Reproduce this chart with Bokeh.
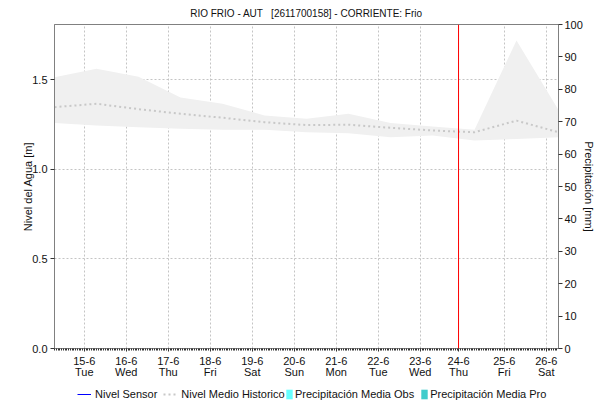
import numpy as np
import pandas as pd
from bokeh.plotting import figure
from bokeh.layouts import column
from bokeh.models import (Range1d, LinearAxis, FixedTicker, Span, Legend, LegendItem,
                          ColumnDataSource, NumeralTickFormatter)
from bokeh.embed import file_html
from bokeh.resources import INLINE

# ---------------- data ----------------
fechas = ["2021-06-14 07:00", "2021-06-15 07:00", "2021-06-16 07:00", "2021-06-17 07:00",
          "2021-06-18 07:00", "2021-06-19 07:00", "2021-06-20 07:00", "2021-06-21 07:00",
          "2021-06-22 07:00", "2021-06-23 07:00", "2021-06-24 07:00", "2021-06-25 07:00",
          "2021-06-26 07:00"]
nivel_max_hist = [1.513, 1.560, 1.515, 1.400, 1.365, 1.300, 1.281, 1.309, 1.257, 1.238, 1.220, 1.718, 1.330]
nivel_medio_hist = [1.346, 1.365, 1.335, 1.309, 1.287, 1.262, 1.246, 1.248, 1.231, 1.216, 1.206, 1.271, 1.206]
nivel_min_hist = [1.257, 1.244, 1.234, 1.225, 1.220, 1.220, 1.206, 1.201, 1.178, 1.188, 1.160, 1.169, 1.178]
precip_obs = [0] * 13
precip_pro = [0] * 13
nivel_sensor = [None] * 13   # no sensor readings in the period

ahora = "2021-06-23 21:53"
tick_fechas = ["2021-06-15", "2021-06-16", "2021-06-17", "2021-06-18", "2021-06-19", "2021-06-20",
               "2021-06-21", "2021-06-22", "2021-06-23", "2021-06-23 21:53", "2021-06-25", "2021-06-26"]
tick_labels = ["15-6\nTue", "16-6\nWed", "17-6\nThu", "18-6\nFri", "19-6\nSat", "20-6\nSun",
               "21-6\nMon", "22-6\nTue", "23-6\nWed", "24-6\nThu", "25-6\nFri", "26-6\nSat"]
nivel_ticks = [0.0, 0.5, 1.0, 1.5]
precip_ticks = [0, 10, 20, 30, 40, 50, 60, 70, 80, 90, 100]

titulo = "RIO FRIO - AUT \u00a0 [2611700158] - CORRIENTE: Frio"
leyenda_lineas = ["Nivel Sensor", "Nivel Medio Historico"]
leyenda_barras = ["Precipitación Media Obs", "Precipitación Media Pro"]


def to_day(s):
    t = pd.Timestamp(s)
    return round(t.day + t.hour / 24 + t.minute / 1440, 4)


x = [to_day(f) for f in fechas]
tx = [to_day(f) for f in tick_fechas]
x_now = to_day(ahora)

FONT = "Liberation Sans"
FS = "11px"
C_SENSOR = "#0000ff"
C_MEDIO = "#c8c8c8"
C_OBS = "#66ffff"
C_PRO = "#40cccc"

p = figure(width=600, height=383, output_backend="svg", toolbar_location=None,
           x_range=Range1d(x[0], x[-1]), y_range=Range1d(0, 1.807),
           min_border_left=54, min_border_right=42, min_border_top=24, min_border_bottom=35)
p.extra_y_ranges = {"precip": Range1d(0, 100)}
p.background_fill_color = "white"
p.border_fill_color = "white"
p.outline_line_color = "#808080"

p.title.text = titulo
p.title.align = "center"
p.title.vertical_align = "middle"
p.title.text_font = FONT
p.title.text_font_size = "10px"
p.title.text_font_style = "normal"
p.title.text_color = "#111111"

# band + mean
src = ColumnDataSource(dict(x=x, lo=nivel_min_hist, hi=nivel_max_hist, med=nivel_medio_hist,
                            sen=nivel_sensor, po=precip_obs, pp=precip_pro))
p.varea(x="x", y1="lo", y2="hi", source=src, fill_color="#f0f0f0")
p.line(x="x", y="med", source=src, line_color=C_MEDIO, line_width=2, line_dash="2 3")
p.line(x="x", y="sen", source=src, line_color=C_SENSOR, line_width=1)
p.vbar(x="x", top="po", width=0.4, source=src, y_range_name="precip",
       fill_color=C_OBS, line_color=None)
p.vbar(x="x", top="pp", width=0.4, source=src, y_range_name="precip",
       fill_color=C_PRO, line_color=None)

# axes
xa = p.xaxis[0]
xa.ticker = FixedTicker(ticks=tx, minor_ticks=list(np.arange(x[0], x[-1], 1 / 24)))
xa.major_label_overrides = {t: l for t, l in zip(tx, tick_labels)}
xa.major_label_text_line_height = 0.95

ya = p.yaxis[0]
ya.ticker = FixedTicker(ticks=nivel_ticks)
ya.formatter = NumeralTickFormatter(format="0.0")
ya.axis_label = "Nivel del Agua [m]"

ra = LinearAxis(y_range_name="precip", ticker=FixedTicker(ticks=precip_ticks),
                axis_label="Precipitación [mm]")
p.add_layout(ra, "right")

for ax in (xa, ya, ra):
    ax.axis_line_color = "#808080"
    ax.major_tick_line_color = "#333333"
    ax.minor_tick_line_color = "#333333" if ax is xa else None
    ax.major_tick_out = 3 if ax is xa else 4
    ax.major_tick_in = 0
    ax.minor_tick_out = 2
    ax.minor_tick_in = 0
    ax.major_label_text_font = FONT
    ax.major_label_text_font_size = FS
    ax.major_label_text_color = "#111111"
    ax.axis_label_text_font = FONT
    ax.axis_label_text_font_size = FS
    ax.axis_label_text_font_style = "normal"
    ax.axis_label_text_color = "#111111"
xa.major_label_standoff = 3
ya.major_label_standoff = 3
ya.axis_label_standoff = -5
ra.major_label_standoff = 2
ra.axis_label_standoff = -3

for g in (p.xgrid[0], p.ygrid[0]):
    g.grid_line_color = "#c4c4c4"
    g.grid_line_dash = "2 2"
    g.grid_line_width = 1

p.add_layout(Span(location=x_now, dimension="height", line_color="#ff0000", line_width=1))

# legend strip (its frame is aligned with the main frame; data lie outside its view)
lg = figure(width=600, height=20, output_backend="svg", toolbar_location=None,
            x_range=Range1d(0, 1), y_range=Range1d(-1, 0), x_axis_type=None, y_axis_type=None,
            min_border=0, outline_line_color=None)
lg.grid.visible = False
l_sen = lg.line(x="x", y="sen", source=src, line_color=C_SENSOR, line_width=1)
l_med = lg.line(x="x", y="med", source=src, line_color=C_MEDIO, line_width=2, line_dash="2 3")
l_obs = lg.vbar(x="x", top="po", width=0.1, source=src, fill_color=C_OBS, line_color=None)
l_pro = lg.vbar(x="x", top="pp", width=0.1, source=src, fill_color=C_PRO, line_color=None)

common = dict(orientation="horizontal", glyph_height=12, spacing=6,
              padding=0, margin=0, label_height=12, border_line_color=None,
              background_fill_alpha=0, label_text_font=FONT, label_text_font_size=FS,
              label_text_color="#111111")
leg1 = Legend(items=[LegendItem(label=leyenda_lineas[0], renderers=[l_sen], index=0),
                     LegendItem(label=leyenda_lineas[1], renderers=[l_med], index=0)],
              location=(23, 3), glyph_width=14, label_standoff=4, **common)
leg2 = Legend(items=[LegendItem(label=leyenda_barras[0], renderers=[l_obs], index=0),
                     LegendItem(label=leyenda_barras[1], renderers=[l_pro], index=0)],
              location=(231, 3), glyph_width=8, label_standoff=2, **common)
lg.add_layout(leg1, "center")
lg.add_layout(leg2, "center")

layout = column(p, lg, spacing=0)
open("out.html", "w").write(file_html(layout, INLINE))
